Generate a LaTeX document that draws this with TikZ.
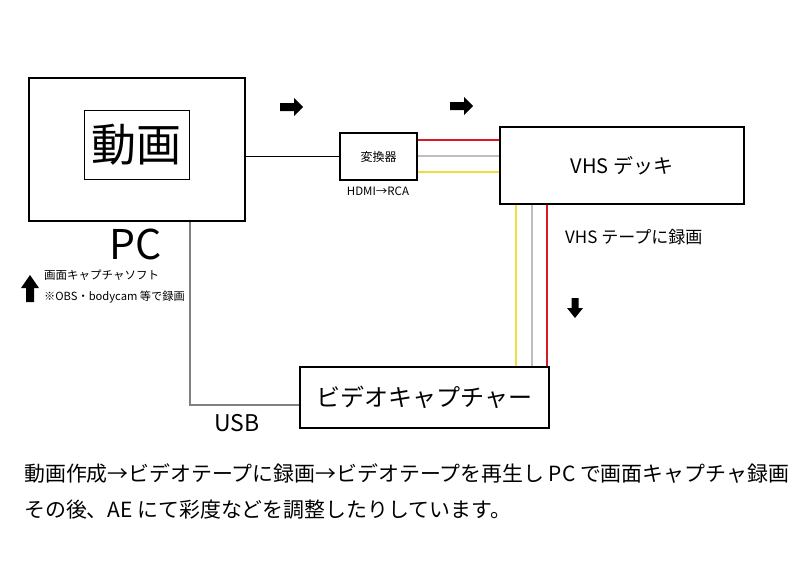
\documentclass[tikz,border=0pt]{standalone}
\usepackage{fontspec}
\setmainfont{Noto Sans CJK JP}
\usetikzlibrary{calc}
\definecolor{wred}{RGB}{215,25,40}
\definecolor{wyel}{RGB}{240,222,60}
\definecolor{wgry}{RGB}{190,190,190}
\begin{document}
\begin{tikzpicture}[x=1pt,y=-1pt,
  box/.style={draw,line width=2pt,inner sep=0pt},
  thinbox/.style={draw,line width=1pt,inner sep=0pt},
  lbl/.style={inner sep=0pt},
  wire/.style={line width=1.5pt}]
\useasboundingbox[fill=white] (0,0) rectangle (800,565);
% boxes
\node[box,minimum width=216pt,minimum height=143pt] (pc) at (137,149.5) {};
\node[thinbox,minimum width=105pt,minimum height=69pt,font=\fontsize{45}{45}\selectfont] (movie) at (136.5,144.5) {動画};
\node[lbl,font=\fontsize{41}{41}\selectfont] (pclbl) at (136,244) {PC};
\node[box,line width=1.6pt,minimum width=77pt,minimum height=47pt,font=\fontsize{12}{12}\selectfont] (conv) at (378.5,156.5) {変換器};
\node[lbl,font=\fontsize{11.5}{11.5}\selectfont] (hdmi) at (378,191) {HDMI→RCA};
\node[box,minimum width=244pt,minimum height=77pt,font=\fontsize{20}{20}\selectfont] (vhs) at (622,165.5) {VHS デッキ};
\node[box,minimum width=249pt,minimum height=61pt,font=\fontsize{24}{24}\selectfont] (cap) at (424.5,397.5) {ビデオキャプチャー};
% labels
\node[lbl,anchor=west,font=\fontsize{17}{17}\selectfont] (tape) at (565,237) {VHS テープに録画};
\node[lbl,anchor=west,font=\fontsize{11.5}{11.5}\selectfont] (soft) at (44,275) {画面キャプチャソフト};
\node[lbl,anchor=west,font=\fontsize{11.2}{11.2}\selectfont] (obs) at (44,297) {※OBS・bodycam 等で録画};
\node[lbl,font=\fontsize{23}{23}\selectfont] (usb) at (237,423) {USB};
\node[lbl,anchor=west,font=\fontsize{20.9}{20.9}\selectfont] (line1) at (24,474) {動画作成→ビデオテープに録画→ビデオテープを再生し PC で画面キャプチャ録画};
\node[lbl,anchor=west,font=\fontsize{20.9}{20.9}\selectfont] (line2) at (24,510) {その後、AE にて彩度などを調整したりしています。};
% connectors
\draw[line width=1.5pt] (conv.west) -- (conv.west -| pc.east);
\draw[wire,wred] ([yshift=-8pt]conv.north east) -- ([yshift=-8pt]conv.north east -| vhs.west);
\draw[wire,wgry] ([yshift=-24pt]conv.north east) -- ([yshift=-24pt]conv.north east -| vhs.west);
\draw[wire,wyel] ([yshift=-40pt]conv.north east) -- ([yshift=-40pt]conv.north east -| vhs.west);
\draw[wire,wyel] ([xshift=17pt]vhs.south west) -- ([xshift=17pt]vhs.south west |- cap.north);
\draw[wire,wgry] ([xshift=33pt]vhs.south west) -- ([xshift=33pt]vhs.south west |- cap.north);
\draw[wire,wred] ([xshift=48pt]vhs.south west) -- ([xshift=48pt]vhs.south west |- cap.north);
\draw[line width=1.2pt,gray] ([xshift=-56pt]pc.south east) |- ([yshift=-7.5pt]cap.west);
% block arrows
\fill (280,103) -- (294,103) -- (294,98) -- (303,107) -- (294,116) -- (294,111) -- (280,111) -- cycle;
\fill (450,102) -- (464,102) -- (464,97) -- (473,106) -- (464,115) -- (464,110) -- (450,110) -- cycle;
\fill (26,302) -- (26,288) -- (21,288) -- (30,275) -- (39,288) -- (34,288) -- (34,302) -- cycle;
\fill (571.5,298) -- (571.5,308) -- (567,308) -- (575,318) -- (583,308) -- (578.5,308) -- (578.5,298) -- cycle;
\end{tikzpicture}
\end{document}
